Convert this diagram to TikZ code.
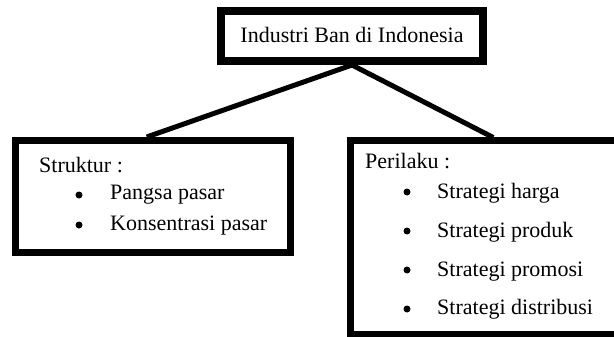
\documentclass[tikz,border=0pt]{standalone}
\usepackage{fontspec}
\setmainfont{Liberation Serif}
\begin{document}
\begin{tikzpicture}[x=1pt,y=-1pt,
        teks/.style={anchor=base west,inner sep=0pt,font=\fontsize{22}{26}\selectfont},
        titik/.style={circle,fill,inner sep=0pt,minimum size=7pt}]
        \useasboundingbox (0,0) rectangle (614,337);
        \clip (0,0) rectangle (614,337);

        % Draw the top box
        \node[draw,line width=8pt,minimum width=262pt,minimum height=50pt] (industri) at (352,36) {};
        \node[teks,anchor=base] (judul) at (352,43) {Industri Ban di Indonesia};

        % Draw the left box
        \node[draw,line width=7pt,minimum width=274.5pt,minimum height=112pt] (struktur) at (152.75,196.5) {};
        \node[teks] (strukturjudul) at (39,172) {Struktur :};
        \node[titik] (titik1) at (79,195) {};
        \node[teks] (pangsa) at (110,200) {Pangsa pasar};
        \node[titik] (titik2) at (79,225) {};
        \node[teks] (konsentrasi) at (110,230) {Konsentrasi pasar};

        % Draw the right box (runs past the right edge)
        \node[draw,line width=7pt,minimum width=289.5pt,minimum height=193.5pt] (perilaku) at (495.25,237.75) {};
        \node[teks] (perilakujudul) at (365,168) {Perilaku :};
        \node[titik] (titik3) at (407,192) {};
        \node[teks] (harga) at (437,198) {Strategi harga};
        \node[titik] (titik4) at (407,231) {};
        \node[teks] (produk) at (437,237) {Strategi produk};
        \node[titik] (titik5) at (407,270) {};
        \node[teks] (promosi) at (437,276) {Strategi promosi};
        \node[titik] (titik6) at (407,309) {};
        \node[teks] (distribusi) at (437,314) {Strategi distribusi};

        % lines from the top box to both boxes
        \draw[line width=5pt] (industri.south) -- ([xshift=-6pt]struktur.north);
        \draw[line width=5pt] (industri.south) -- ([xshift=-2pt]perilaku.north);
\end{tikzpicture}
\end{document}
